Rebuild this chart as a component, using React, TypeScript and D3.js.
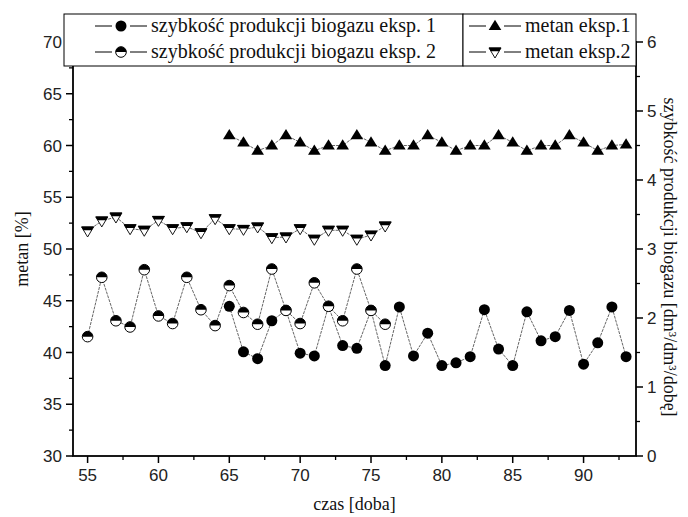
import React from "react";
import * as d3 from "d3";

// dni pomiarow
const daysExp2 = [55, 56, 57, 58, 59, 60, 61, 62, 63, 64, 65, 66, 67, 68, 69, 70, 71, 72, 73, 74, 75, 76];
const daysExp1 = [65, 66, 67, 68, 69, 70, 71, 72, 73, 74, 75, 76, 77, 78, 79, 80, 81, 82, 83, 84, 85, 86, 87, 88, 89, 90, 91, 92, 93];

// metan [%] (lewa os)
const metan1 = [61.0, 60.3, 59.5, 60.0, 61.0, 60.3, 59.5, 60.0, 60.0, 61.0, 60.3, 59.5, 60.0, 60.0, 61.0, 60.3, 59.5, 60.0, 60.0, 61.0, 60.3, 59.5, 60.0, 60.0, 61.0, 60.3, 59.5, 60.0, 60.1];
const metan2 = [51.74, 52.71, 53.09, 51.96, 51.81, 52.77, 51.96, 52.15, 51.57, 52.93, 51.96, 51.9, 52.13, 51.09, 51.16, 51.96, 50.94, 51.81, 51.81, 50.94, 51.35, 52.22];

// szybkosc produkcji biogazu (prawa os)
const rate1 = [2.17, 1.51, 1.41, 1.96, 2.11, 1.49, 1.45, 2.17, 1.6, 1.56, 2.11, 1.31, 2.16, 1.45, 1.78, 1.31, 1.35, 1.44, 2.12, 1.55, 1.31, 2.09, 1.67, 1.73, 2.11, 1.33, 1.64, 2.16, 1.44];
const rate2 = [1.73, 2.59, 1.96, 1.87, 2.7, 2.03, 1.92, 2.59, 2.12, 1.89, 2.47, 2.08, 1.91, 2.71, 2.11, 1.92, 2.51, 2.17, 1.96, 2.71, 2.11, 1.91];

const xMajor = [55, 60, 65, 70, 75, 80, 85, 90];
const xMinor = [57.5, 62.5, 67.5, 72.5, 77.5, 82.5, 87.5, 92.5];
const yLeftMajor = [30, 35, 40, 45, 50, 55, 60, 65, 70];
const yLeftMinor = [32.5, 37.5, 42.5, 47.5, 52.5, 57.5, 62.5, 67.5];
const yRightMajor = [0, 1, 2, 3, 4, 5, 6];
const yRightMinor = [0.5, 1.5, 2.5, 3.5, 4.5, 5.5];

const W = 688;
const H = 517;
const L = 73, R = 636, T = 42, B = 456;

const x = d3.scaleLinear().domain([53.97, 93.7]).range([L, R]);
const yL = d3.scaleLinear().domain([30, 70]).range([B, T]);
const yR = d3.scaleLinear().domain([0, 6]).range([B, T]);

const sans = "'Liberation Sans', Arial, sans-serif";
const serif = "'Liberation Serif', 'Times New Roman', serif";

const lineStyle = { fill: "none", stroke: "#555", strokeWidth: 0.9, strokeDasharray: "3 1" };

const Circle = ({ cx, cy }) => <circle cx={cx} cy={cy} r={5.5} fill="#000" />;
const HalfCircle = ({ cx, cy }) => (
  <g transform={`translate(${cx},${cy})`}>
    <circle r={5.3} fill="#fff" stroke="#000" strokeWidth={1} />
    <path d="M-5.3,0 A5.3,5.3 0 0 1 5.3,0 Z" fill="#000" />
  </g>
);
const TriUp = ({ cx, cy }) => (
  <path transform={`translate(${cx},${cy})`} d="M0,-6.2 L6.3,4 L-6.3,4 Z" fill="#000" />
);
const TriDown = ({ cx, cy }) => (
  <g transform={`translate(${cx},${cy})`}>
    <path d="M-6,-4 L6,-4 L0,6 Z" fill="#fff" stroke="#000" strokeWidth={0.9} />
    <path d="M-6.3,-4.4 L6.3,-4.4 L4.2,-0.8 L-4.2,-0.8 Z" fill="#000" />
  </g>
);

const Series = ({ xs, ys, yScale, Marker }) => {
  const pts = xs.map((d, i) => [x(d), yScale(ys[i])]);
  const path = d3.line()(pts);
  return (
    <g>
      <path d={path} style={lineStyle} />
      {pts.map((p, i) => <Marker key={i} cx={p[0]} cy={p[1]} />)}
    </g>
  );
};

const LegendItem = ({ x0, y0, Marker, label }) => (
  <g>
    <line x1={x0} x2={x0 + 52} y1={y0} y2={y0} stroke="#000" strokeWidth={1} />
    <rect x={x0 + 17} y={y0 - 7} width={18} height={14} fill="#fff" />
    <Marker cx={x0 + 26} cy={y0} />
    <text x={x0 + 56} y={y0 + 6} fontFamily={serif} fontSize={20} fill="#111">{label}</text>
  </g>
);

export default function App() {
  return (
    <svg width={W} height={H} style={{ position: "absolute", left: 0, top: 0, background: "#fff" }}>
      <rect width={W} height={H} fill="#fff" />

      {/* ramka */}
      <rect x={L} y={T} width={R - L} height={B - T} fill="none" stroke="#000" strokeWidth={1.8} />

      {/* os X */}
      {xMajor.map(t => (
        <g key={t}>
          <line x1={x(t)} x2={x(t)} y1={B} y2={B + 7} stroke="#000" strokeWidth={1.5} />
          <text x={x(t)} y={B + 25} textAnchor="middle" fontFamily={sans} fontSize={17} fill="#222">{t}</text>
        </g>
      ))}
      {xMinor.map(t => <line key={t} x1={x(t)} x2={x(t)} y1={B} y2={B + 4} stroke="#000" strokeWidth={1.3} />)}

      {/* lewa os */}
      {yLeftMajor.map(t => (
        <g key={t}>
          <line x1={L - 7} x2={L} y1={yL(t)} y2={yL(t)} stroke="#000" strokeWidth={1.5} />
          <text x={L - 11} y={yL(t) + 6} textAnchor="end" fontFamily={sans} fontSize={17} fill="#222">{t}</text>
        </g>
      ))}
      {yLeftMinor.map(t => <line key={t} x1={L - 4} x2={L} y1={yL(t)} y2={yL(t)} stroke="#000" strokeWidth={1.3} />)}

      {/* prawa os */}
      {yRightMajor.map(t => (
        <g key={t}>
          <line x1={R} x2={R + 7} y1={yR(t)} y2={yR(t)} stroke="#000" strokeWidth={1.5} />
          <text x={R + 11} y={yR(t) + 6} textAnchor="start" fontFamily={sans} fontSize={17} fill="#222">{t}</text>
        </g>
      ))}
      {yRightMinor.map(t => <line key={t} x1={R} x2={R + 4} y1={yR(t)} y2={yR(t)} stroke="#000" strokeWidth={1.3} />)}

      {/* serie */}
      <Series xs={daysExp1} ys={metan1} yScale={yL} Marker={TriUp} />
      <Series xs={daysExp2} ys={metan2} yScale={yL} Marker={TriDown} />
      <Series xs={daysExp1} ys={rate1} yScale={yR} Marker={Circle} />
      <Series xs={daysExp2} ys={rate2} yScale={yR} Marker={HalfCircle} />

      {/* tytuly osi */}
      <text x={(L + R) / 2} y={510} textAnchor="middle" fontFamily={serif} fontSize={18} fill="#111">czas [doba]</text>
      <text transform={`translate(28,${(T + B) / 2}) rotate(-90)`} textAnchor="middle" fontFamily={serif} fontSize={18} fill="#111">metan [%]</text>
      <text transform={`translate(664,${(T + B) / 2 + 8}) rotate(90)`} textAnchor="middle" fontFamily={serif} fontSize={18} fill="#111">
        szybkość produkcji biogazu [dm³/dm³/dobę]
      </text>

      {/* legenda */}
      <rect x={64} y={14} width={399} height={52} fill="#fff" stroke="#000" strokeWidth={1} />
      <rect x={463} y={14} width={R - 463} height={52} fill="#fff" stroke="#000" strokeWidth={1} />
      <LegendItem x0={95} y0={26} Marker={Circle} label="szybkość produkcji biogazu eksp. 1" />
      <LegendItem x0={95} y0={52} Marker={HalfCircle} label="szybkość produkcji biogazu eksp. 2" />
      <LegendItem x0={469} y0={26} Marker={TriUp} label="metan eksp.1" />
      <LegendItem x0={469} y0={52} Marker={TriDown} label="metan eksp.2" />
    </svg>
  );
}
